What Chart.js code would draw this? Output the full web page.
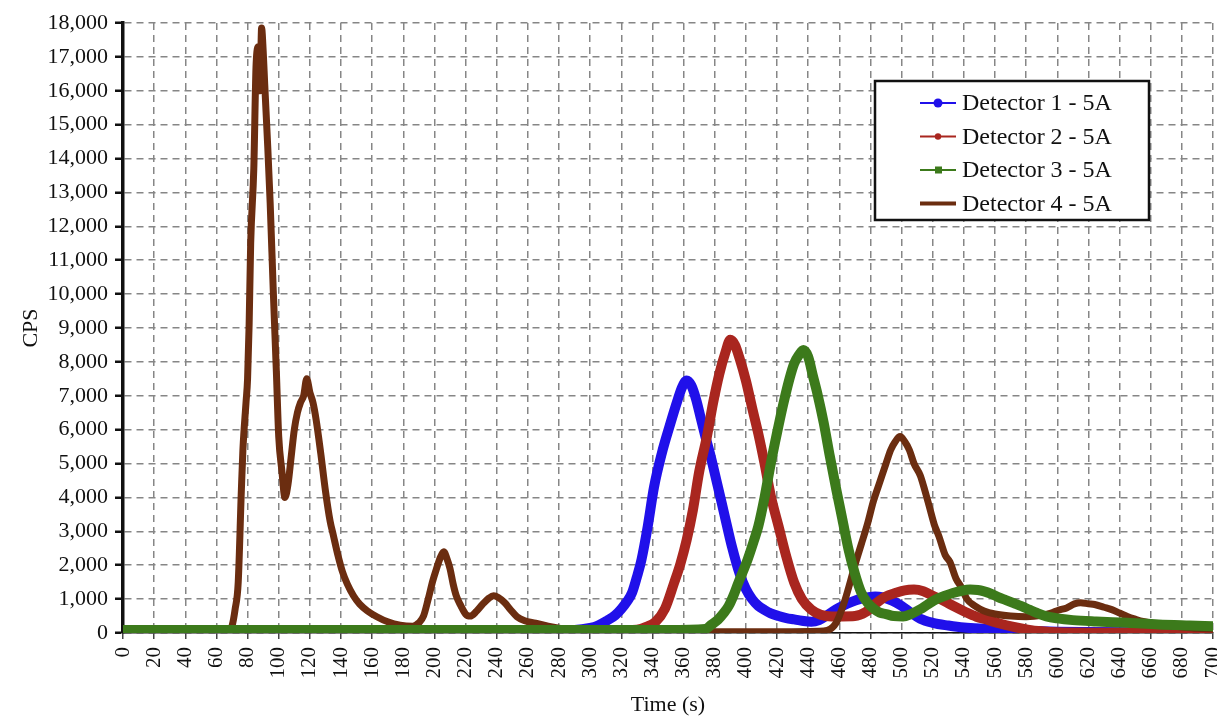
<!DOCTYPE html>
<html>
<head>
<meta charset="utf-8">
<title>CPS vs Time</title>
<script src="https://cdn.jsdelivr.net/npm/chart.js@4.4.0/dist/chart.umd.min.js"></script>
<style>
  html, body { margin: 0; padding: 0; background: #fff; }
  #wrap { width: 1217px; height: 722px; }
</style>
</head>
<body>
<div id="wrap"><canvas id="myChart" width="1217" height="722"></canvas></div>
<script>
// tick labels
const timeTicks = [0, 20, 40, 60, 80, 100, 120, 140, 160, 180, 200, 220, 240, 260, 280, 300, 320, 340,
  360, 380, 400, 420, 440, 460, 480, 500, 520, 540, 560, 580, 600, 620, 640, 660, 680, 700];
const cpsTicks = [0, 1000, 2000, 3000, 4000, 5000, 6000, 7000, 8000, 9000, 10000, 11000, 12000,
  13000, 14000, 15000, 16000, 17000, 18000];

const seriesNames = ['Detector 1 - 5A', 'Detector 2 - 5A', 'Detector 3 - 5A', 'Detector 4 - 5A'];

// Detector 1 - 5A
const det1Time = [0, 50, 100, 150, 200, 250, 290, 300, 305, 311, 316, 320, 324, 327, 330, 333, 337, 341,
  346, 351, 356, 359, 362, 365, 368, 371, 374, 377, 381, 386, 391, 396, 400, 404, 408, 412, 416, 421,
  426, 431, 436, 442, 447, 452, 458, 463, 468, 473, 478, 483, 488, 494, 500, 506, 512, 520, 530, 540,
  555, 570, 585, 600, 620, 650, 700];
const det1Cps = [60, 60, 60, 60, 60, 70, 90, 150, 220, 370, 520, 710, 950, 1200, 1650, 2170, 3150, 4300,
  5300, 6100, 6850, 7250, 7450, 7300, 6900, 6350, 5800, 5290, 4520, 3540, 2560, 1750, 1300, 1000, 800,
  680, 580, 500, 440, 400, 360, 330, 380, 520, 700, 820, 920, 1000, 1050, 1080, 1050, 950, 800, 600,
  420, 300, 220, 160, 120, 80, 60, 40, 30, 20, 10];

// Detector 2 - 5A
const det2Time = [0, 50, 100, 150, 200, 250, 300, 330, 336, 342, 348, 354, 358, 362, 366, 370, 375, 379,
  383, 387, 390, 393, 396, 400, 404, 408, 412, 416, 421, 426, 431, 436, 442, 448, 455, 462, 470, 477,
  484, 490, 496, 502, 508, 514, 520, 527, 534, 541, 548, 555, 563, 572, 581, 590, 600, 620, 650, 700];
const det2Cps = [60, 60, 60, 60, 60, 60, 60, 100, 180, 330, 710, 1490, 2050, 2750, 3630, 4750, 5800,
  6800, 7650, 8300, 8650, 8500, 8100, 7450, 6650, 5880, 5000, 4050, 3150, 2250, 1490, 1000, 690, 540,
  490, 490, 500, 620, 890, 1080, 1180, 1260, 1280, 1230, 1100, 950, 780, 620, 480, 390, 280, 180, 100,
  50, 20, 10, 10, 10];

// Detector 3 - 5A
const det3Time = [0, 50, 100, 150, 200, 250, 300, 350, 374, 378, 382, 386, 389, 392, 395, 398, 401, 405,
  408, 412, 416, 420, 424, 428, 431, 434, 437, 440, 443, 446, 450, 454, 458, 462, 466, 470, 474, 478,
  482, 486, 490, 495, 501, 506, 512, 517, 522, 528, 533, 538, 544, 549, 553, 558, 562, 567, 572, 577,
  582, 587, 593, 600, 610, 625, 645, 665, 685, 700];
const det3Cps = [90, 90, 90, 90, 90, 90, 90, 90, 120, 250, 390, 600, 800, 1100, 1460, 1800, 2150, 2700,
  3150, 4000, 5000, 5900, 6750, 7500, 7950, 8200, 8350, 8150, 7600, 7050, 6200, 5200, 4250, 3350, 2450,
  1750, 1200, 900, 720, 600, 560, 500, 490, 560, 700, 850, 990, 1100, 1180, 1240, 1280, 1270, 1230,
  1150, 1060, 970, 880, 790, 690, 590, 490, 430, 380, 340, 300, 250, 220, 200];

// Detector 4 - 5A
const det4Time = [0, 30, 60, 68, 70, 72, 74, 76, 77, 79, 80, 81, 82, 84, 85.5, 87, 88, 89, 90, 91, 93,
  94.5, 96.5, 98.5, 100, 102, 104, 106, 108, 110, 112, 114, 116, 118, 120, 122, 124, 127, 130, 133, 135,
  138, 141, 144, 148, 152, 157, 163, 170, 178, 186, 190, 193, 196, 199, 201, 204, 206, 208, 210, 212,
  214, 217, 220, 223, 227, 231, 235, 238, 241, 245, 249, 253, 258, 265, 273, 282, 290, 300, 350, 390,
  420, 450, 458, 463, 467, 470, 474, 478, 482, 486, 490, 493, 496, 499, 502, 505, 508, 512, 515, 518,
  521, 524, 528, 531, 535, 538, 542, 547, 553, 560, 570, 580, 590, 596, 601, 606, 611, 615, 620, 624,
  630, 635, 640, 645, 650, 655, 662, 670, 680, 690, 700];
const det4Cps = [30, 30, 30, 30, 200, 700, 1500, 4200, 5400, 6800, 7500, 9100, 11500, 13700, 16800,
  17300, 16000, 17850, 17200, 16200, 14300, 12700, 10100, 7700, 5800, 4800, 4000, 4400, 5200, 6000,
  6500, 6800, 7000, 7500, 7100, 6800, 6300, 5300, 4200, 3300, 2900, 2300, 1800, 1450, 1100, 850, 650, 480,
  330, 230, 200, 300, 500, 1000, 1550, 1850, 2250, 2400, 2200, 1900, 1450, 1100, 800, 560, 500, 640,
  850, 1030, 1100, 1050, 900, 680, 480, 360, 290, 200, 130, 70, 40, 40, 40, 40, 60, 300, 880, 1500,
  2000, 2600, 3200, 3900, 4450, 5000, 5400, 5650, 5800, 5650, 5400, 5000, 4650, 4200, 3700, 3200,
  2850, 2300, 2100, 1600, 1380, 1000, 800, 650, 560, 500, 480, 520, 590, 680, 740, 860, 890, 860, 840,
  760, 690, 590, 490, 410, 340, 280, 230, 180, 140, 120];

const colors = ['#2010ea', '#a9261f', '#3c7a1b', '#6b2d10'];

let toPoints = (xs, ys) => xs.map((x, i) => ({ x: x, y: ys[i] }));

// legend drawn inside the plot, boxed like the original
const boxLegend = {
  id: 'boxLegend',
  afterDraw(chart) {
    const ctx = chart.ctx;
    const a = chart.chartArea;
    const left = a.right - 338, top = a.top + 58, w = 274, h = 139;
    ctx.save();
    ctx.fillStyle = '#fff';
    ctx.fillRect(left, top, w, h);
    ctx.lineWidth = 2.5;
    ctx.strokeStyle = '#111';
    ctx.strokeRect(left, top, w, h);
    ctx.font = '24px "Liberation Serif"';
    ctx.textBaseline = 'middle';
    seriesNames.forEach((name, i) => {
      const y = top + 22 + i * 33.5;
      ctx.strokeStyle = colors[i];
      ctx.fillStyle = colors[i];
      ctx.lineWidth = i === 3 ? 4 : 2;
      ctx.beginPath();
      ctx.moveTo(left + 45, y);
      ctx.lineTo(left + 81, y);
      ctx.stroke();
      if (i === 0) {
        ctx.beginPath(); ctx.arc(left + 63, y, 4.5, 0, Math.PI * 2); ctx.fill();
      } else if (i === 1) {
        ctx.beginPath(); ctx.arc(left + 63, y, 3.2, 0, Math.PI * 2); ctx.fill();
      } else if (i === 2) {
        ctx.fillRect(left + 60, y - 3.5, 7, 7);
      }
      ctx.fillStyle = '#111';
      ctx.fillText(name, left + 87, y + 1);
    });
    ctx.restore();
  }
};

const serif = '"Liberation Serif", "Times New Roman", serif';

const ctx = document.getElementById('myChart').getContext('2d');
const myChart = new Chart(ctx, {
  type: 'line',
  data: {
    datasets: [
      { label: seriesNames[0], data: toPoints(det1Time, det1Cps), borderColor: colors[0], borderWidth: 10, order: 3 },
      { label: seriesNames[1], data: toPoints(det2Time, det2Cps), borderColor: colors[1], borderWidth: 10, order: 2 },
      { label: seriesNames[2], data: toPoints(det3Time, det3Cps), borderColor: colors[2], borderWidth: 10, order: 0 },
      { label: seriesNames[3], data: toPoints(det4Time, det4Cps), borderColor: colors[3], borderWidth: 7, order: 1 }
    ]
  },
  options: {
    responsive: false,
    animation: false,
    parsing: false,
    elements: {
      point: { radius: 0 },
      line: { cubicInterpolationMode: 'monotone', borderJoinStyle: 'round', borderCapStyle: 'round' }
    },
    layout: { padding: { top: 23, right: 4, left: 0, bottom: 0 } },
    plugins: { legend: { display: false }, tooltip: { enabled: false } },
    scales: {
      x: {
        type: 'linear',
        min: timeTicks[0],
        max: timeTicks[timeTicks.length - 1],
        afterBuildTicks: s => { s.ticks = timeTicks.map(v => ({ value: v })); },
        afterFit: s => { s.height = 89; s.paddingLeft = 0; s.paddingRight = 0; },
        grid: { color: '#868686', lineWidth: 1.5, tickColor: '#444', tickLength: 6, tickWidth: 1.5 },
        border: { display: true, color: '#111', width: 1.5, dash: [7, 5] },
        ticks: {
          color: '#111', minRotation: 90, maxRotation: 90, padding: 8, autoSkip: false,
          font: { family: serif, size: 21 }
        },
        title: { display: true, text: 'Time (s)', color: '#111', font: { family: serif, size: 22 }, padding: { top: 0, bottom: 4 } }
      },
      y: {
        min: cpsTicks[0],
        max: cpsTicks[cpsTicks.length - 1],
        afterBuildTicks: s => { s.ticks = cpsTicks.map(v => ({ value: v })); },
        afterFit: s => { s.width = 123; },
        grid: { color: '#868686', lineWidth: 1.5, tickColor: '#111', tickLength: 8, tickWidth: 2.5 },
        border: { display: true, color: '#111', width: 3.5, dash: [7, 5] },
        ticks: {
          color: '#111', padding: 7,
          font: { family: serif, size: 22 },
          callback: v => v.toLocaleString('en-US')
        },
        title: { display: true, text: 'CPS', color: '#111', font: { family: serif, size: 22 }, padding: { top: 18, bottom: 0 } }
      }
    }
  },
  plugins: [boxLegend]
});
</script>
</body>
</html>
